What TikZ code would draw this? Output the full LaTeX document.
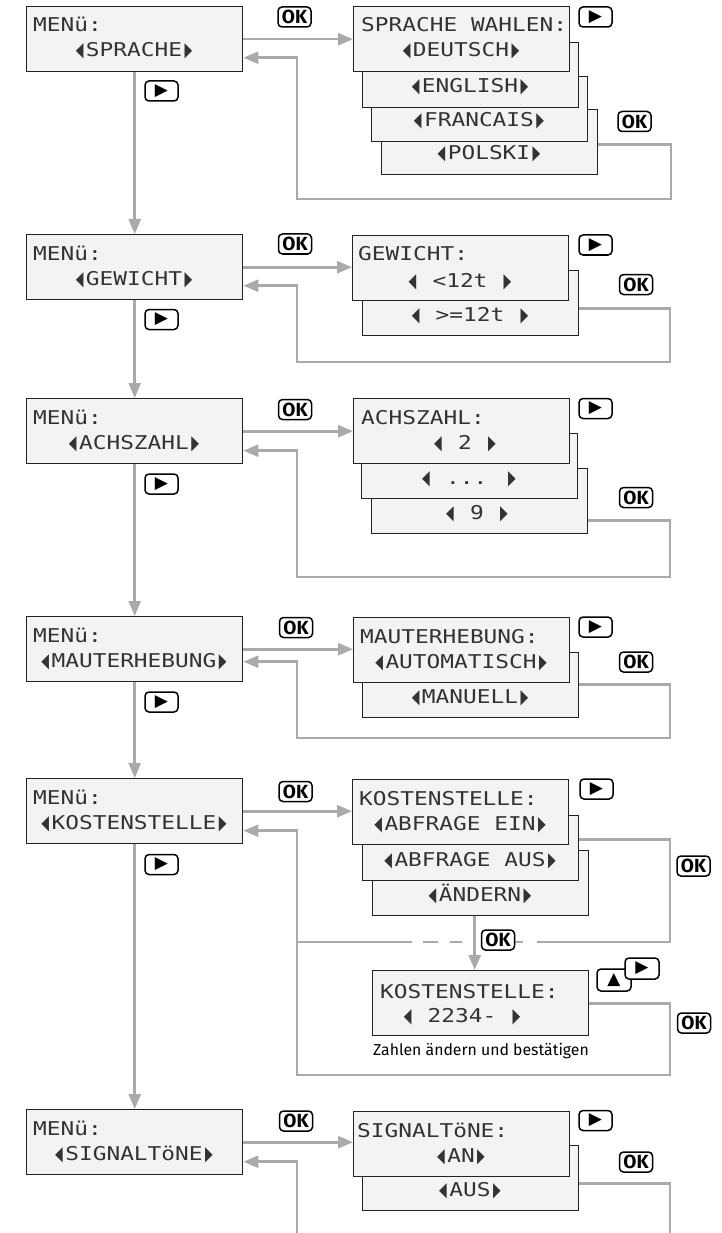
\documentclass[tikz,border=0pt]{standalone}
\usepackage{fontspec}
\usepackage{graphicx}
\usetikzlibrary{arrows.meta}
\newfontfamily\lcdfont[FakeStretch=1.2]{DejaVu Sans Mono}
\newfontfamily\labfont{Fira Sans}
\newfontfamily\symfont{DejaVu Sans}
\definecolor{boxfill}{HTML}{F3F3F3}
\definecolor{boxc}{HTML}{222222}
\definecolor{connc}{HTML}{AAAAAA}
\definecolor{lcdtext}{HTML}{333333}
\newcommand\lar{\raisebox{0pt}{\scalebox{0.5}[1]{\symfont\fontsize{20}{20}\selectfont ◀}}\kern2.5pt}
\newcommand\rar{\kern2.5pt\raisebox{0pt}{\scalebox{0.5}[1]{\symfont\fontsize{20}{20}\selectfont ▶}}}
\newcommand\playsym{{\symfont\fontsize{17}{17}\selectfont ▶}}
\newcommand\upsym{{\symfont\fontsize{17}{17}\selectfont ▲}}
\begin{document}
\begin{tikzpicture}[x=1pt,y=-1pt,
  lcdbox/.style={draw=boxc, line width=1.4pt, fill=boxfill, minimum width=216pt, minimum height=65pt, anchor=north west, inner sep=0pt},
  lcd/.style={font=\lcdfont\fontsize{19}{19}\selectfont, inner sep=0pt, text=lcdtext},
  conn/.style={draw=connc, line width=2.6pt},
  arr/.style={conn, -{Triangle[length=15pt,width=12pt]}},
  btn/.style={draw=black, line width=1.5pt, rounded corners=4pt, fill=white, minimum width=33pt, minimum height=20pt, inner sep=0pt, font=\labfont\bfseries\fontsize{19}{19}\selectfont},
  capt/.style={font=\labfont\fontsize{15.8}{15.8}\selectfont, inner sep=0pt, text=black}]
\useasboundingbox[fill=white] (0,0) rectangle (722,1233);

% ---------- boxes ----------
% section 1
\node[lcdbox] (m1) at (26,6) {};
\node[lcdbox] (s1d) at (381,109) {};
\node[lcdbox] (s1c) at (371,76) {};
\node[lcdbox] (s1b) at (362,42) {};
\node[lcdbox] (s1a) at (353,6) {};
% section 2
\node[lcdbox] (m2) at (26,234) {};
\node[lcdbox] (s2b) at (362,270) {};
\node[lcdbox] (s2a) at (352,235) {};
% section 3
\node[lcdbox] (m3) at (26,398) {};
\node[lcdbox] (s3c) at (371,468) {};
\node[lcdbox] (s3b) at (361,433) {};
\node[lcdbox] (s3a) at (353,398) {};
% section 4
\node[lcdbox] (m4) at (26,616) {};
\node[lcdbox] (s4b) at (362,652) {};
\node[lcdbox] (s4a) at (353,617) {};
% section 5
\node[lcdbox] (m5) at (26,778) {};
\node[lcdbox] (s5c) at (372,850) {};
\node[lcdbox] (s5b) at (362,815) {};
\node[lcdbox] (s5a) at (352,779) {};
\node[lcdbox] (k2) at (372,970) {};
% section 6
\node[lcdbox] (m6) at (26,1109) {};
\node[lcdbox] (s6b) at (362,1145) {};
\node[lcdbox] (s6a) at (353,1111) {};

% ---------- texts ----------
\node[lcd,anchor=base west] (m1t) at (33,32) {MENü:};
\node[lcd,anchor=base] (m1v) at (134,57) {\lar SPRACHE\rar};
\node[lcd,anchor=base west] (s1t) at (361,32) {SPRACHE WAHLEN:};
\node[lcd,anchor=base] (s1v) at (461,57) {\lar DEUTSCH\rar};
\node[lcd,anchor=base] (s1bv) at (470,93) {\lar ENGLISH\rar};
\node[lcd,anchor=base] (s1cv) at (479,127) {\lar FRANCAIS\rar};
\node[lcd,anchor=base] (s1dv) at (489,160) {\lar POLSKI\rar};

\node[lcd,anchor=base west] (m2t) at (33,260) {MENü:};
\node[lcd,anchor=base] (m2v) at (134,285) {\lar GEWICHT\rar};
\node[lcd,anchor=base west] (s2t) at (358,261) {GEWICHT:};
\node[lcd,anchor=base] (s2v) at (460,287) {{\lar} <12t {\rar}};
\node[lcd,anchor=base] (s2bv) at (470,321) {{\lar} >=12t {\rar}};

\node[lcd,anchor=base west] (m3t) at (33,424) {MENü:};
\node[lcd,anchor=base] (m3v) at (134,449) {\lar ACHSZAHL\rar};
\node[lcd,anchor=base west] (s3t) at (361,424) {ACHSZAHL:};
\node[lcd,anchor=base] (s3v) at (465,449) {{\lar} 2 {\rar}};
\node[lcd,anchor=base] (s3bv) at (469,484) {{\lar} ... {\rar}};
\node[lcd,anchor=base] (s3cv) at (477,519) {{\lar} 9 {\rar}};

\node[lcd,anchor=base west] (m4t) at (33,642) {MENü:};
\node[lcd,anchor=base] (m4v) at (134,667) {\lar MAUTERHEBUNG\rar};
\node[lcd,anchor=base west] (s4t) at (360,643) {MAUTERHEBUNG:};
\node[lcd,anchor=base] (s4v) at (461,668) {\lar AUTOMATISCH\rar};
\node[lcd,anchor=base] (s4bv) at (470,703) {\lar MANUELL\rar};

\node[lcd,anchor=base west] (m5t) at (33,804) {MENü:};
\node[lcd,anchor=base] (m5v) at (134,829) {\lar KOSTENSTELLE\rar};
\node[lcd,anchor=base west] (s5t) at (359,805) {KOSTENSTELLE:};
\node[lcd,anchor=base] (s5v) at (460,830) {\lar ABFRAGE EIN\rar};
\node[lcd,anchor=base] (s5bv) at (470,866) {\lar ABFRAGE AUS\rar};
\node[lcd,anchor=base] (s5cv) at (480,901) {\lar ÄNDERN\rar};
\node[lcd,anchor=base west] (k2t) at (380,998) {KOSTENSTELLE:};
\node[lcd,anchor=base] (k2v) at (462,1022) {{\lar} 2234- {\rar}};
\node[capt,anchor=base west] (cap) at (373,1055) {Zahlen ändern und bestätigen};

\node[lcd,anchor=base west] (m6t) at (33,1135) {MENü:};
\node[lcd,anchor=base] (m6v) at (134,1160) {\lar SIGNALTöNE\rar};
\node[lcd,anchor=base west] (s6t) at (357,1137) {SIGNALTöNE:};
\node[lcd,anchor=base] (s6v) at (461,1162) {\lar AN\rar};
\node[lcd,anchor=base] (s6bv) at (470,1196) {\lar AUS\rar};

% ---------- connectors ----------
\draw[arr] (m1.east) -- (m1.east -| s1a.west);
\draw[arr] ([yshift=-2.5pt]s1d.east) -| (671,199) -- (297,199) |- ([yshift=-18.5pt]m1.east);
\draw[arr] (m1.south) -- (m2.north);

\draw[arr] (m2.east) -- (m2.east -| s2a.west);
\draw[arr] ([yshift=-5.5pt]s2b.east) -| (670,362) -- (297,362) |- ([yshift=-18.5pt]m2.east);
\draw[arr] (m2.south) -- (m3.north);

\draw[arr] (m3.east) -- (m3.east -| s3a.west);
\draw[arr] ([yshift=-19.5pt]s3c.east) -| (670,577) -- (297,577) |- ([yshift=-19.5pt]m3.east);
\draw[arr] (m3.south) -- (m4.north);

\draw[arr] (m4.east) -- (m4.east -| s4a.west);
\draw[arr] ([yshift=0.5pt]s4b.east) -| (670,738) -- (297,738) |- ([yshift=-12.5pt]m4.east);
\draw[arr] (m4.south) -- (m5.north);

\draw[arr] (m5.east) -- (m5.east -| s5a.west);
\draw[conn] ([yshift=8.5pt]s5b.east) -| (670,942) -- (537,942);
\draw[conn] (523,942) -- (515,942) (462,942) -- (450,942) (438,942) -- (423,942) (412,942) -- (297,942);
\draw[arr] (k2.east) -| (670,1075) -- (297,1075) |- ([yshift=-19.5pt]m5.east);
\draw[arr] ([xshift=-6pt]s5c.south) -- ([xshift=-6pt]k2.north);
\draw[arr] (m5.south) -- (m6.north);

\coordinate (b6l) at (297,1233);
\coordinate (b6r) at (670,1233);
\draw[arr] (m6.east) -- (m6.east -| s6a.west);
\draw[arr] (b6l) |- ([yshift=-19.5pt]m6.east);
\draw[conn] ([yshift=-5.5pt]s6b.east) -| (b6r);

% ---------- buttons ----------
\node[btn] (ok1) at (294.5,17) {OK};
\node[btn] (pl1r) at (595.5,17) {\playsym};
\node[btn] (ok1r) at (634.5,121.5) {OK};
\node[btn] (pl1d) at (161.5,91) {\playsym};

\node[btn] (ok2) at (295,244) {OK};
\node[btn] (pl2r) at (595.5,245) {\playsym};
\node[btn] (ok2r) at (636,284.5) {OK};
\node[btn] (pl2d) at (161.5,319.5) {\playsym};

\node[btn] (ok3) at (295,409.5) {OK};
\node[btn] (pl3r) at (595.5,408.5) {\playsym};
\node[btn] (ok3r) at (636,497.5) {OK};
\node[btn] (pl3d) at (161.5,484) {\playsym};

\node[btn] (ok4) at (296,627.5) {OK};
\node[btn] (pl4r) at (595.5,627) {\playsym};
\node[btn] (ok4r) at (636,662) {OK};
\node[btn] (pl4d) at (161.5,702) {\playsym};

\node[btn] (ok5) at (295.5,791.5) {OK};
\node[btn] (pl5r) at (596.5,789) {\playsym};
\node[btn] (ok5r) at (693.5,866) {OK};
\node[btn] (pl5d) at (161.5,864.5) {\playsym};
\node[btn] (ok5m) at (498,940) {OK};
\node[btn, minimum width=34pt, minimum height=22pt] (up5) at (614,980) {\upsym};
\node[btn, minimum width=34pt, minimum height=21pt] (pl5k) at (642,968.5) {\playsym};
\node[btn] (ok5r2) at (694,1023) {OK};

\node[btn] (ok6) at (296,1121) {OK};
\node[btn] (pl6r) at (595.5,1120.5) {\playsym};
\node[btn] (ok6r) at (636,1162) {OK};
\end{tikzpicture}
\end{document}
